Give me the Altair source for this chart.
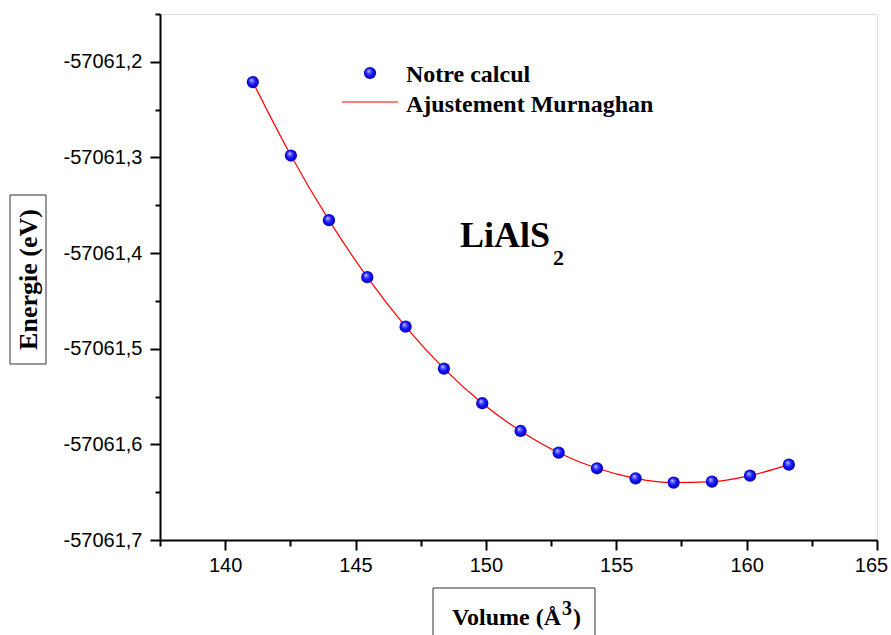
import altair as alt
import pandas as pd

# ---- data ----
volume = [141.06, 142.52, 143.98, 145.45, 146.92, 148.39, 149.86, 151.33,
          152.79, 154.26, 155.74, 157.20, 158.67, 160.13, 161.62]
energy = [-57061.2212, -57061.2980, -57061.3656, -57061.4252, -57061.4769,
          -57061.5208, -57061.5570, -57061.5860, -57061.6087, -57061.6250,
          -57061.6355, -57061.6400, -57061.6390, -57061.6327, -57061.6212]

x_tick_values = [137.5, 140, 142.5, 145, 147.5, 150, 152.5, 155, 157.5, 160, 162.5, 165]
y_tick_values = [-57061.7, -57061.65, -57061.6, -57061.55, -57061.5, -57061.45,
                 -57061.4, -57061.35, -57061.3, -57061.25, -57061.2, -57061.15]
x_domain = [137.5, 165]
y_domain = [-57061.7, -57061.15]

legend_labels = ["Notre calcul", "Ajustement Murnaghan"]
compound = ["LiAlS", "2"]
y_title = ["Energie (eV)"]
x_title = ["Volume (Å", "3", ")"]

df = pd.DataFrame({"volume": volume, "energy": energy})

W, H = 717, 526
SERIF = "Liberation Serif"
SANS = "Liberation Sans"

sphere = {
    "gradient": "radial",
    "x1": 0.38, "y1": 0.32, "r1": 0.0,
    "x2": 0.5, "y2": 0.5, "r2": 0.55,
    "stops": [
        {"offset": 0.0, "color": "#f0f0ff"},
        {"offset": 0.22, "color": "#6a6aff"},
        {"offset": 0.55, "color": "#1414f5"},
        {"offset": 1.0, "color": "#0000a8"},
    ],
}

x_axis = alt.Axis(
    values=x_tick_values,
    labelExpr="datum.value % 5 == 0 ? format(datum.value, 'd') : ''",
    tickSize={"condition": {"test": "datum.value % 5 != 0", "value": 6}, "value": 10},
    labelOffset={"condition": {"test": "datum.value >= 165", "value": -6}, "value": 0},
    tickWidth=2, tickColor="black", domainColor="black", domainWidth=2,
    labelFont=SANS, labelFontSize=20, labelColor="black", labelPadding=5,
    grid=False, labelFlush=False, labelOverlap=False,
)
y_axis = alt.Axis(
    values=y_tick_values,
    labelExpr="abs(datum.value*10 - round(datum.value*10)) < 0.01 ? '-' + replace(format(abs(datum.value), '.1f'), '.', ',') : ''",
    tickSize={"condition": {"test": "abs(datum.value*10 - round(datum.value*10)) > 0.01", "value": 5}, "value": 10},
    tickWidth=2, tickColor="black", domainColor="black", domainWidth=2,
    labelFont=SANS, labelFontSize=20, labelColor="black", labelPadding=8,
    grid=False, labelFlush=False, labelOverlap=False,
)

xenc = alt.X("volume:Q", scale=alt.Scale(domain=x_domain, nice=False, zero=False), axis=x_axis, title="")
yenc = alt.Y("energy:Q", scale=alt.Scale(domain=y_domain, nice=False, zero=False), axis=y_axis, title="")

base = alt.Chart(df)
line = base.mark_line(color="#ff0000", strokeWidth=1.2, interpolate="monotone").encode(x=xenc, y=yenc)
pts = base.mark_circle(fill=sphere, size=150, opacity=1, strokeWidth=0).encode(x=xenc, y=yenc)

# ---- legend (drawn by hand inside the plot) ----
leg_df = pd.DataFrame({"label": legend_labels})
leg_pt = alt.Chart(leg_df.iloc[[0]]).mark_circle(fill=sphere, size=150, opacity=1).encode(
    x=alt.value(210), y=alt.value(59))
leg_line = alt.Chart(leg_df.iloc[[1]]).mark_rule(color="#ff0000", strokeWidth=1.2).encode(
    x=alt.value(182), x2=alt.value(238), y=alt.value(88))
leg_t1 = alt.Chart(leg_df.iloc[[0]]).mark_text(
    font=SERIF, fontWeight="bold", fontSize=24, align="left", baseline="alphabetic", color="black"
).encode(x=alt.value(246), y=alt.value(68), text="label:N")
leg_t2 = alt.Chart(leg_df.iloc[[1]]).mark_text(
    font=SERIF, fontWeight="bold", fontSize=24, align="left", baseline="alphabetic", color="black"
).encode(x=alt.value(246), y=alt.value(98), text="label:N")

# ---- compound label ----
cmp_df = pd.DataFrame({"t": compound})
cmp_main = alt.Chart(cmp_df.iloc[[0]]).mark_text(
    font=SERIF, fontWeight="bold", fontSize=36, align="left", baseline="alphabetic", color="black"
).encode(x=alt.value(300), y=alt.value(233), text="t:N")
cmp_sub = alt.Chart(cmp_df.iloc[[1]]).mark_text(
    font=SERIF, fontWeight="bold", fontSize=22, align="left", baseline="alphabetic", color="black"
).encode(x=alt.value(393), y=alt.value(251), text="t:N")

# ---- boxed axis titles ----
yt_df = pd.DataFrame({"t": y_title})
yt_box = alt.Chart(yt_df).mark_rect(fillOpacity=0, stroke="#333333", strokeWidth=1).encode(
    x=alt.value(-150), x2=alt.value(-114), y=alt.value(181), y2=alt.value(350))
yt_text = alt.Chart(yt_df).mark_text(
    font=SERIF, fontWeight="bold", fontSize=26, angle=270, align="center", baseline="middle", color="black"
).encode(x=alt.value(-131), y=alt.value(265.5), text="t:N")

xt_df = pd.DataFrame({"t": x_title})
xt_box = alt.Chart(xt_df.iloc[[0]]).mark_rect(fillOpacity=0, stroke="#333333", strokeWidth=1).encode(
    x=alt.value(273), x2=alt.value(435), y=alt.value(574), y2=alt.value(640))
xt_a = alt.Chart(xt_df.iloc[[0]]).mark_text(
    font=SERIF, fontWeight="bold", fontSize=24, align="right", baseline="alphabetic", color="black"
).encode(x=alt.value(401), y=alt.value(611), text="t:N")
xt_b = alt.Chart(xt_df.iloc[[1]]).mark_text(
    font=SERIF, fontWeight="bold", fontSize=20, align="left", baseline="alphabetic", color="black"
).encode(x=alt.value(402), y=alt.value(601), text="t:N")
xt_c = alt.Chart(xt_df.iloc[[2]]).mark_text(
    font=SERIF, fontWeight="bold", fontSize=24, align="left", baseline="alphabetic", color="black"
).encode(x=alt.value(413), y=alt.value(611), text="t:N")

chart = alt.layer(
    line, pts, leg_pt, leg_line, leg_t1, leg_t2, cmp_main, cmp_sub,
    yt_box, yt_text, xt_box, xt_a, xt_b, xt_c
).properties(
    width=W, height=H,
    autosize=alt.AutoSizeParams(type="none"),
    padding={"left": 160, "top": 14, "right": 14, "bottom": 95},
).configure_view(
    stroke="#333333", strokeWidth=1
).configure(background="white")

chart.save("out.html", embed_options={"renderer": "svg", "actions": False})
